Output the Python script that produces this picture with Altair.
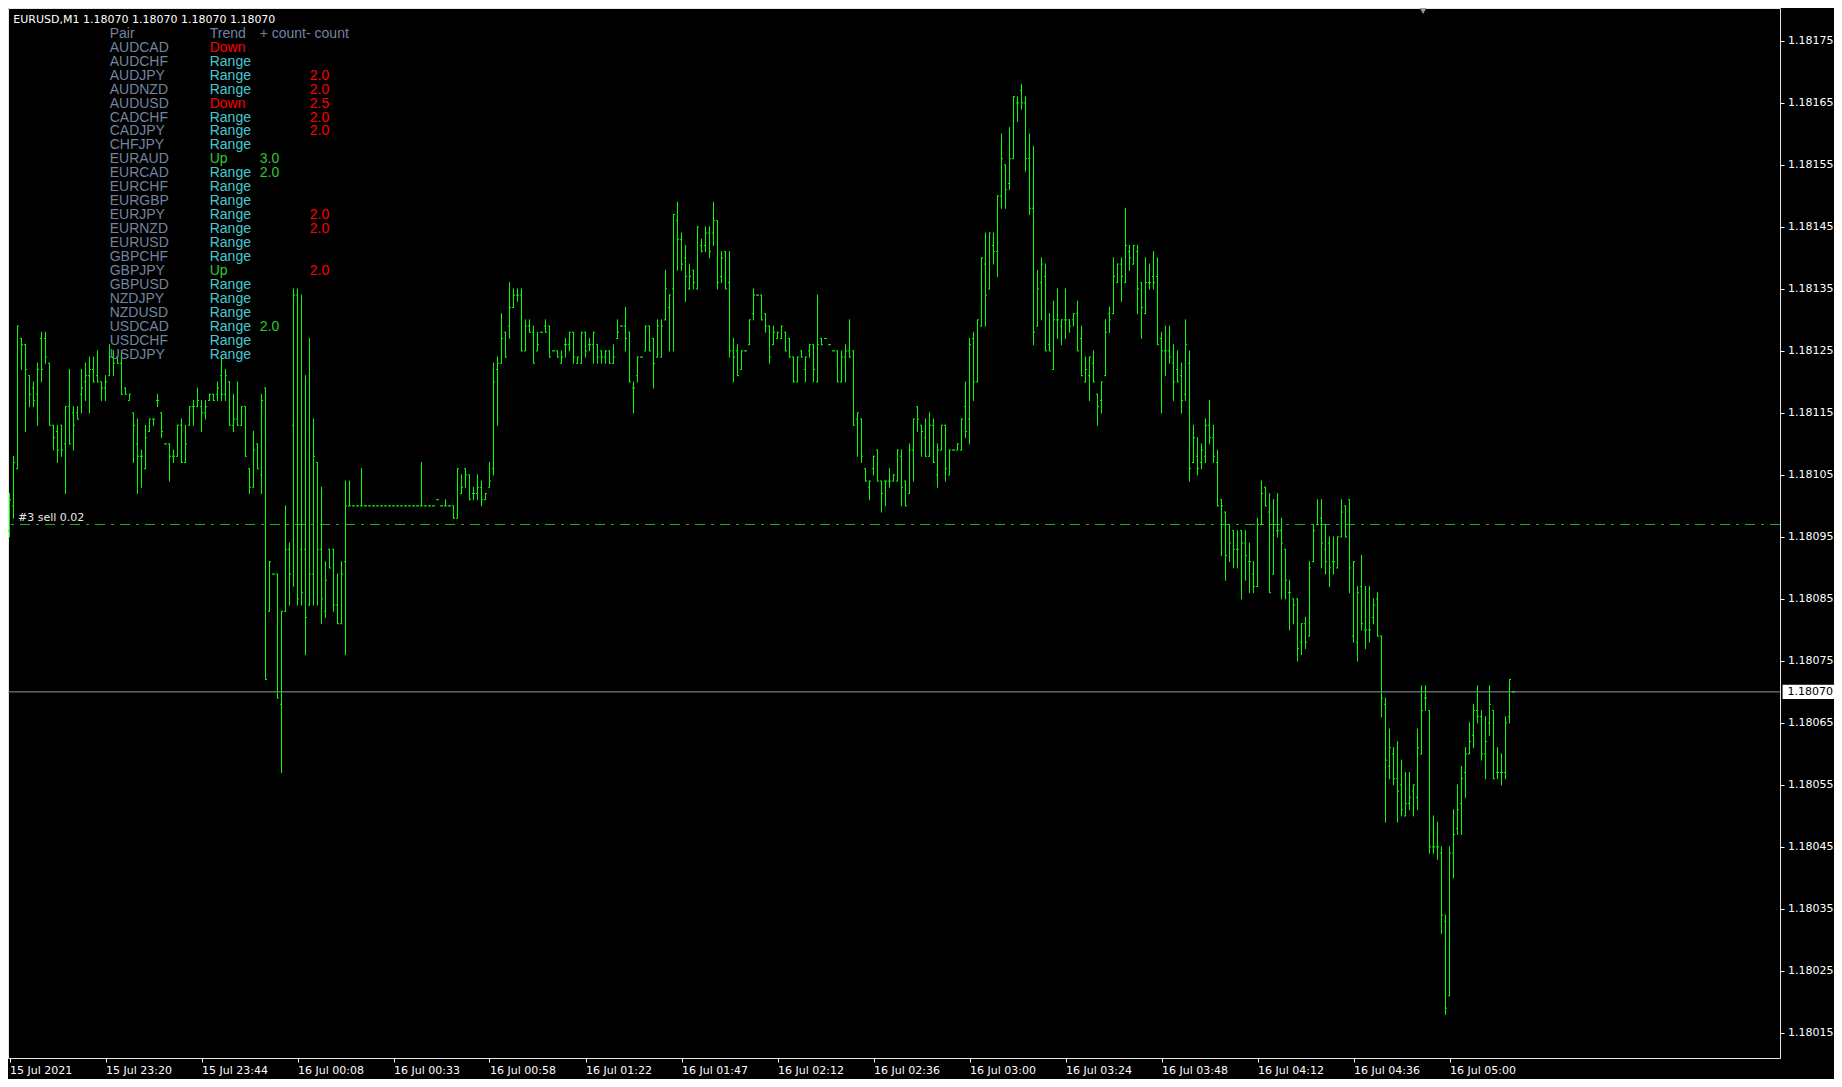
import altair as alt
import pandas as pd

# Prices are stored as points above 1.18000 (1 point = 0.00001)
BASE = 1.18
PT = 0.00001

opens = [96,100,106,127,126,121,119,118,127,127,
         123,113,112,113,110,116,115,115,118,120,
         121,122,121,120,119,121,124,124,123,119,
         117,115,110,108,106,112,114,117,115,110,
         110,108,108,113,107,113,116,116,116,115,
         117,118,118,121,118,120,113,114,113,116,
         106,103,110,105,119,83,89,89,68,83,
         93,113,134,93,93,84,89,107,93,83,
         93,93,84,81,91,100,100,100,100,100,
         100,100,100,100,100,100,100,100,100,100,
         100,100,100,100,100,100,100,101,100,100,
         100,100,98,102,106,105,102,102,103,101,
         103,106,122,123,128,129,132,134,134,125,
         129,128,125,128,129,129,125,125,123,126,
         126,128,123,123,128,126,126,126,125,124,
         125,123,127,129,129,128,119,121,124,125,
         129,127,124,124,130,132,135,146,143,140,
         135,138,135,142,142,144,144,146,137,141,
         136,125,125,122,125,126,131,134,134,131,
         129,126,127,127,128,127,124,120,125,122,
         125,126,120,127,127,126,125,125,120,124,
         125,125,114,114,106,103,106,109,104,104,
         104,104,104,108,104,102,109,116,113,111,
         108,113,105,109,113,105,109,109,109,116,
         114,127,120,129,139,135,142,141,150,155,
         152,156,165,167,165,156,148,129,136,137,
         126,122,130,129,130,130,130,131,127,120,
         121,123,118,117,121,131,131,136,139,136,
         141,139,141,136,131,136,137,137,127,125,
         125,123,122,121,118,123,107,108,107,108,
         113,111,107,101,99,97,96,93,96,94,
         91,89,87,97,103,99,89,96,96,93,
         86,85,85,78,81,79,91,97,98,93,
         94,91,90,95,100,101,79,78,87,80,
         80,82,85,79,68,58,60,56,55,50,
         52,54,53,60,69,67,45,45,44,33,
         21,44,48,52,57,60,63,67,66,60,
         65,67,57,57,57,66,70]

highs = [102,108,129,127,126,121,120,123,128,128,
         123,113,113,113,116,122,116,116,122,123,
         124,124,125,120,121,126,125,124,125,119,
         118,115,114,109,113,114,114,118,115,110,
         110,109,113,114,113,116,117,119,117,117,
         118,118,120,124,122,120,118,120,116,116,
         106,112,110,118,119,91,89,89,83,100,
         94,135,135,134,121,127,114,107,103,91,
         93,93,89,91,104,104,100,100,106,100,
         100,100,100,100,100,100,100,100,100,100,
         100,100,100,107,100,100,100,101,100,101,
         100,100,106,105,106,105,103,105,104,102,
         107,123,124,131,128,136,135,135,135,130,
         130,129,128,128,130,129,125,125,125,127,
         128,128,124,128,128,127,128,126,125,125,
         125,126,130,129,132,128,120,124,124,129,
         129,127,130,130,138,134,147,149,144,142,
         139,138,145,143,145,145,149,146,141,141,
         141,127,126,125,125,130,135,134,134,131,
         129,129,128,129,128,127,124,124,125,124,
         126,126,134,127,127,126,125,125,125,126,
         130,125,115,114,106,104,108,109,104,104,
         106,105,109,109,104,110,114,116,113,114,
         115,114,110,113,113,109,109,110,114,120,
         127,128,130,140,144,144,144,150,160,155,
         161,166,166,168,166,160,158,138,140,139,
         131,133,135,130,135,130,131,133,129,124,
         124,125,118,120,130,132,140,139,140,148,
         142,142,142,136,140,139,141,140,128,129,
         129,126,125,123,130,125,113,111,110,114,
         117,113,109,101,99,97,96,96,96,96,
         94,91,98,104,103,102,101,102,98,93,
         88,85,85,81,82,91,97,101,101,97,
         95,95,95,101,100,101,91,87,92,87,
         87,85,86,79,69,64,61,62,59,57,
         57,55,64,71,71,67,50,49,45,34,
         45,51,55,58,61,65,68,71,67,66,
         71,67,61,60,66,72,70]

lows = [95,98,106,122,112,116,116,113,120,123,
        113,109,107,108,102,110,109,114,115,117,
        115,120,120,117,117,121,121,123,118,118,
        117,107,102,103,106,112,113,116,111,110,
        104,107,108,107,107,113,113,116,112,114,
        117,117,117,117,117,113,112,113,113,108,
        102,103,106,102,72,83,89,69,57,83,
        84,87,84,84,76,84,84,84,81,82,
        90,83,81,81,76,100,100,100,100,100,
        100,100,100,100,100,100,100,100,100,100,
        100,100,100,100,100,100,100,101,100,100,
        100,98,98,102,103,101,101,101,100,101,
        103,105,113,123,124,127,132,133,125,125,
        128,123,125,128,128,124,125,124,123,124,
        125,123,123,123,124,125,123,123,123,123,
        123,123,127,129,125,120,115,120,124,125,
        125,119,124,124,130,125,125,138,138,133,
        135,135,135,141,141,140,142,135,136,135,
        124,120,121,122,125,126,130,134,130,128,
        123,126,127,127,125,124,120,120,124,120,
        124,120,120,126,127,126,125,120,120,120,
        124,113,108,107,104,101,105,104,99,100,
        103,104,104,100,100,102,104,112,108,108,
        108,107,103,109,104,105,109,109,109,111,
        110,117,120,129,129,135,139,137,148,148,
        151,156,162,164,154,147,126,129,130,125,
        125,122,127,126,127,128,129,125,121,120,
        117,120,113,115,121,128,131,136,133,136,
        138,139,131,127,131,135,135,126,115,121,
        123,117,120,115,117,104,107,105,106,107,
        110,107,100,92,88,91,90,90,85,88,
        86,86,87,97,100,86,89,95,85,85,
        80,81,75,76,77,79,91,97,90,89,
        87,89,90,95,95,86,78,75,80,77,
        78,81,79,66,49,56,55,49,50,50,
        51,50,51,60,67,44,44,43,31,18,
        21,40,47,47,53,60,61,65,59,56,
        63,56,56,55,56,65,70]

closes = [101,107,129,126,122,118,117,122,122,124,
          113,111,109,109,116,110,113,114,119,121,
          122,120,120,119,120,124,123,123,118,118,
          118,113,108,108,111,114,114,117,112,110,
          108,108,113,107,110,116,116,117,115,116,
          118,117,119,118,121,113,114,113,116,108,
          103,109,106,117,72,91,89,69,83,93,
          89,134,85,86,82,89,108,93,85,88,
          90,84,81,89,100,100,100,100,100,100,
          100,100,100,100,100,100,100,100,100,100,
          100,100,100,100,100,100,100,101,100,100,
          100,98,106,103,105,101,102,103,101,102,
          104,120,123,127,124,132,134,134,125,129,
          128,123,126,128,128,124,125,124,124,126,
          128,124,124,128,125,126,128,124,124,125,
          123,124,128,129,127,120,119,124,124,129,
          125,123,129,129,135,134,147,143,139,137,
          137,136,145,141,144,141,146,136,140,135,
          125,124,121,125,125,130,134,134,130,129,
          124,128,128,129,125,124,120,124,124,124,
          126,122,126,126,127,126,125,120,124,125,
          124,113,115,108,104,104,108,104,102,104,
          104,105,109,103,100,109,114,114,112,108,
          113,107,109,113,106,109,109,110,114,112,
          126,120,130,140,134,144,141,150,156,151,
          156,166,165,165,156,148,128,135,139,125,
          125,130,130,130,130,129,131,125,121,122,
          124,120,116,120,128,130,137,139,137,142,
          140,142,135,132,136,136,136,126,125,125,
          124,120,120,117,126,106,111,106,109,113,
          111,108,100,100,92,94,93,93,94,92,
          91,87,97,102,100,86,97,96,94,88,
          86,84,77,81,78,90,96,97,94,91,
          90,91,95,99,95,90,91,86,81,80,
          80,84,79,69,59,61,56,54,51,52,
          53,55,61,67,69,45,45,45,34,19,
          44,47,51,56,60,62,67,66,60,62,
          68,56,57,57,65,72,70]

x_tick_bars = [0, 24, 48, 72, 96, 120, 144, 168, 192, 216, 240, 264, 288, 312, 336, 360]
x_tick_labels = ["15 Jul 2021", "15 Jul 23:20", "15 Jul 23:44", "16 Jul 00:08", "16 Jul 00:33",
                 "16 Jul 00:58", "16 Jul 01:22", "16 Jul 01:47", "16 Jul 02:12", "16 Jul 02:36",
                 "16 Jul 03:00", "16 Jul 03:24", "16 Jul 03:48", "16 Jul 04:12", "16 Jul 04:36",
                 "16 Jul 05:00"]
y_tick_values = [1.18015, 1.18025, 1.18035, 1.18045, 1.18055, 1.18065, 1.18075, 1.18085,
                 1.18095, 1.18105, 1.18115, 1.18125, 1.18135, 1.18145, 1.18155, 1.18165, 1.18175]

current_price = 1.18070
order_price = 1.18097
order_label = "#3 sell 0.02"
header_text = "EURUSD,M1  1.18070 1.18070 1.18070 1.18070"
shift_marker_bar = 353.4

pairs = ["AUDCAD", "AUDCHF", "AUDJPY", "AUDNZD", "AUDUSD", "CADCHF", "CADJPY", "CHFJPY",
         "EURAUD", "EURCAD", "EURCHF", "EURGBP", "EURJPY", "EURNZD", "EURUSD", "GBPCHF",
         "GBPJPY", "GBPUSD", "NZDJPY", "NZDUSD", "USDCAD", "USDCHF", "USDJPY"]
trends = ["Down", "Range", "Range", "Range", "Down", "Range", "Range", "Range",
          "Up", "Range", "Range", "Range", "Range", "Range", "Range", "Range",
          "Up", "Range", "Range", "Range", "Range", "Range", "Range"]
plus_counts = ["", "", "", "", "", "", "", "", "3.0", "2.0", "", "", "", "", "", "",
               "", "", "", "", "2.0", "", ""]
minus_counts = ["", "", "2.0", "2.0", "2.5", "2.0", "2.0", "", "", "", "", "", "2.0", "2.0",
                "", "", "2.0", "", "", "", "", "", ""]
table_headers = ["Pair", "Trend", "+ count- count"]

# ---------------------------------------------------------------- layout
W, H = 1772, 1050
PX_PER_BAR = 4.0
PX_PER_PT = 6.2
x0 = -0.375
xs = alt.Scale(domain=[x0, x0 + W / PX_PER_BAR], nice=False, zero=False)
ytop = 180.3
ys = alt.Scale(domain=[round(BASE + (ytop - H / PX_PER_PT) * PT, 7), round(BASE + ytop * PT, 7)],
               nice=False, zero=False)

FONT = "DejaVu Sans"
LIME = "#00ff00"

n = len(opens)
df = pd.DataFrame({
    "i": list(range(n)),
    "o": [round(BASE + v * PT, 5) for v in opens],
    "h": [round(BASE + v * PT, 5) for v in highs],
    "l": [round(BASE + v * PT, 5) for v in lows],
    "c": [round(BASE + v * PT, 5) for v in closes],
})

label_array = "[" + ",".join("'" + s + "'" for s in x_tick_labels) + "]"
xaxis = alt.Axis(values=x_tick_bars, labelExpr=label_array + "[round(datum.value / 24)]",
                 orient="bottom", title=None, grid=False, domain=False, tickSize=4,
                 tickColor="#ffffff", labelColor="#ffffff", labelFont=FONT, labelFontSize=11,
                 labelAlign="left", labelPadding=2, labelFlush=False, labelOverlap=False,
                 labelBound=False)
yaxis = alt.Axis(values=y_tick_values, format=".5f", orient="right", title=None, grid=False,
                 domain=False, tickSize=4, tickColor="#ffffff", labelColor="#ffffff",
                 labelFont=FONT, labelFontSize=11, labelPadding=3.5, labelOverlap=False,
                 labelFlush=False, labelBound=False)

base = alt.Chart(df)
hl = base.mark_rule(color=LIME, strokeWidth=1, strokeCap="square").encode(
    x=alt.X("i:Q", scale=xs, axis=xaxis),
    y=alt.Y("l:Q", scale=ys, axis=yaxis),
    y2="h:Q",
)
open_tick = base.transform_calculate(xa="datum.i - 0.375").mark_rule(
    color=LIME, strokeWidth=1).encode(
    x=alt.X("xa:Q", scale=xs), x2="i:Q", y=alt.Y("o:Q", scale=ys))
close_tick = base.transform_calculate(xb="datum.i + 0.375").mark_rule(
    color=LIME, strokeWidth=1).encode(
    x=alt.X("i:Q", scale=xs), x2="xb:Q", y=alt.Y("c:Q", scale=ys))

lvl = pd.DataFrame({"p": [current_price], "ptop": [round(current_price + 1.15 * PT, 7)],
                    "pbot": [round(current_price - 1.15 * PT, 7)],
                    "t": [f"{current_price:.5f}"]})
price_line = alt.Chart(lvl).mark_rule(color="#8c96a8", strokeWidth=1).encode(
    y=alt.Y("p:Q", scale=ys))
price_box = alt.Chart(lvl).mark_rect(color="#ffffff").encode(
    x=alt.value(W + 2.6), x2=alt.value(W + 60), y=alt.Y("ptop:Q", scale=ys), y2="pbot:Q")
price_text = alt.Chart(lvl).mark_text(align="left", baseline="middle", font=FONT, fontSize=11,
                                      color="#000000").encode(
    x=alt.value(W + 7.6), y=alt.Y("p:Q", scale=ys), text="t:N")

od = pd.DataFrame({"p": [order_price], "t": [order_label]})
order_line = alt.Chart(od).mark_rule(color="#1fb01f", strokeWidth=1,
                                     strokeDash=[10, 6, 3, 6]).encode(y=alt.Y("p:Q", scale=ys))
order_text = alt.Chart(od).mark_text(align="left", baseline="alphabetic", font=FONT, fontSize=11,
                                     color="#e8e8e8", dy=-3).encode(
    x=alt.value(10), y=alt.Y("p:Q", scale=ys), text="t:N")

marker = alt.Chart(pd.DataFrame({"b": [shift_marker_bar]})).mark_point(
    shape="triangle-down", filled=True, size=45, color="#9a9a9a", opacity=1).encode(
    x=alt.X("b:Q", scale=xs), y=alt.value(3))

hdr = alt.Chart(pd.DataFrame({"t": [header_text]})).mark_text(
    align="left", baseline="alphabetic", font=FONT, fontSize=11, color="#ffffff").encode(
    x=alt.value(5.3), y=alt.value(14.7), text="t:N")

# table
ROW0, ROWH = 29.7, 13.97
COLX = [101.7, 201.7, 251.7, 301.7]
rows = []
for j, (t, cx) in enumerate(zip(table_headers, COLX[:3])):
    rows.append({"x": cx, "y": ROW0, "t": t, "kind": "head"})
for r, (p, tr, pc, mc) in enumerate(zip(pairs, trends, plus_counts, minus_counts), start=1):
    yy = ROW0 + ROWH * r
    rows.append({"x": COLX[0], "y": yy, "t": p, "kind": "head"})
    rows.append({"x": COLX[1], "y": yy, "t": tr, "kind": tr})
    if pc:
        rows.append({"x": COLX[2], "y": yy, "t": pc, "kind": "plus"})
    if mc:
        rows.append({"x": COLX[3], "y": yy, "t": mc, "kind": "minus"})
tdf = pd.DataFrame(rows)
table = alt.Chart(tdf).mark_text(align="left", baseline="alphabetic", font="Liberation Sans",
                                 fontSize=14).encode(
    x=alt.X("x:Q", scale=None), y=alt.Y("y:Q", scale=None), text="t:N",
    color=alt.Color("kind:N", legend=None, scale=alt.Scale(
        domain=["head", "Down", "Range", "Up", "plus", "minus"],
        range=["#7284a0", "#ff0000", "#46c8d2", "#32c832", "#32c832", "#ff0000"])))

chart = alt.layer(
    price_line, order_line, hl, open_tick, close_tick, order_text,
    price_box, price_text, marker, hdr, table
).properties(
    width=W, height=H,
    padding={"left": 0, "top": 0, "right": 54, "bottom": 21},
    autosize=alt.AutoSizeParams(type="none"),
).configure(background="#000000").configure_view(stroke="#e6e6e6", strokeWidth=1)

chart.save("out.html", embed_options={"renderer": "svg", "actions": False})
